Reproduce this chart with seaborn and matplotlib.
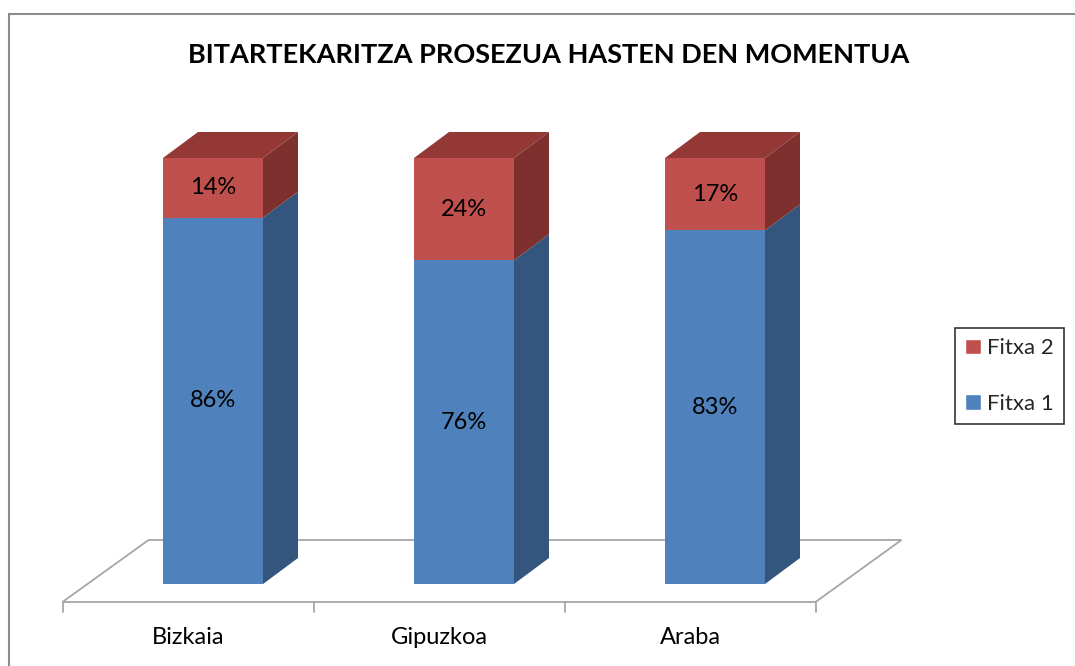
import pandas as pd
import seaborn as sns
import matplotlib.pyplot as plt
from matplotlib.patches import Polygon, Rectangle, Patch

regions = ["Bizkaia", "Gipuzkoa", "Araba"]
fitxa1 = [86, 76, 83]
fitxa2 = [14, 24, 17]
title = "BITARTEKARITZA PROSEZUA HASTEN DEN MOMENTUA"

front = {"Fitxa 1": "#4F81BD", "Fitxa 2": "#C0504D"}
side = {"Fitxa 1": "#34557E", "Fitxa 2": "#7E302F"}
top = {"Fitxa 1": "#3E6A9E", "Fitxa 2": "#943836"}

W, H = 1075, 666
# pixel layout of the value axis / category axis
PX_X, PX_Y = 251.0, 4.26       # pixels per category step / per percent
X0, Y0 = 213.0, 584.0          # pixel of category 0 centre / value 0 (from top)
DEPTH = (35, 26)               # 3d depth of a bar in pixels
FLOOR_DEPTH = (86, 62)

sns.set_theme(style="white")
plt.rcParams["font.family"] = ["Lato", "DejaVu Sans"]

df = pd.DataFrame({"region": regions, "Fitxa 1": fitxa1, "Fitxa 2": fitxa2})
df["total"] = df["Fitxa 1"] + df["Fitxa 2"]

fig = plt.figure(figsize=(W / 100, H / 100), dpi=100)
ax = fig.add_axes([0, 0, 1, 1])
sns.barplot(data=df, x="region", y="total", color=front["Fitxa 2"], width=100 / PX_X,
            saturation=1, errorbar=None, linewidth=0, ax=ax, zorder=3)
sns.barplot(data=df, x="region", y="Fitxa 1", color=front["Fitxa 1"], width=100 / PX_X,
            saturation=1, errorbar=None, linewidth=0, ax=ax, zorder=3)
ax.set_xlim(-X0 / PX_X, (W - X0) / PX_X)
ax.set_ylim(-(H - Y0) / PX_Y, Y0 / PX_Y)
ax.axis("off")

dx, dy = DEPTH[0] / PX_X, DEPTH[1] / PX_Y

# floor
fx, fy = 25 / PX_X, 18 / PX_Y
bx, by = FLOOR_DEPTH[0] / PX_X, FLOOR_DEPTH[1] / PX_Y
n = len(regions)
left, right = -0.5 - fx, n - 0.5 - fx
floor = Polygon([(left, -fy), (right, -fy), (right + bx, -fy + by), (left + bx, -fy + by)],
                closed=True, facecolor="white", edgecolor="#A6A6A6", lw=1.3, zorder=1)
ax.add_patch(floor)
for i in range(n + 1):
    ax.plot([i - 0.5 - fx] * 2, [-fy, -fy - 10 / PX_Y], color="#A6A6A6", lw=1.3, zorder=1)
for i, r in enumerate(regions):
    ax.text(i - fx, -fy - 36 / PX_Y, r, ha="center", va="center", fontsize=17, color="black")

# 3d side and top faces
totals = ax.patches[:n]
lows = ax.patches[n:2 * n]
for i in range(n):
    p, q = totals[i], lows[i]
    x0, w = p.get_x(), p.get_width()
    xr = x0 + w
    segs = [("Fitxa 1", 0, q.get_height()), ("Fitxa 2", q.get_height(), p.get_height())]
    for name, a, b in segs:
        ax.add_patch(Polygon([(xr, a), (xr, b), (xr + dx, b + dy), (xr + dx, a + dy)],
                             closed=True, facecolor=side[name], lw=0, zorder=3))
        ax.text(x0 + w / 2, (a + b) / 2, f"{b - a:.0f}%", ha="center", va="center",
                fontsize=17, color="black", zorder=5)
    t = p.get_height()
    ax.add_patch(Polygon([(x0, t), (xr, t), (xr + dx, t + dy), (x0 + dx, t + dy)],
                         closed=True, facecolor=top["Fitxa 2"], lw=0, zorder=3))

handles = [Patch(facecolor=front["Fitxa 2"], label="Fitxa 2"),
           Patch(facecolor=front["Fitxa 1"], label="Fitxa 1")]
leg = ax.legend(handles=handles, loc="center left", bbox_to_anchor=(955 / W, 1 - 376 / H),
                bbox_transform=fig.transFigure, fontsize=16, frameon=True, fancybox=False,
                handlelength=0.7, handleheight=0.7, handletextpad=0.3, labelspacing=1.6,
                borderpad=0.45, borderaxespad=0)
leg.get_frame().set_edgecolor("black")
leg.get_frame().set_linewidth(1.2)

fig.text(549 / W, 1 - 55 / H, title, ha="center", va="center", fontsize=19.5,
         fontweight="bold", color="black")

fig.patches.append(Rectangle((9 / W, -0.1), 1.2, 1 - 14 / H + 0.1, transform=fig.transFigure,
                             fill=False, edgecolor="#8C8C8C", lw=1.5, figure=fig))

fig.savefig("out.png", dpi=100)
